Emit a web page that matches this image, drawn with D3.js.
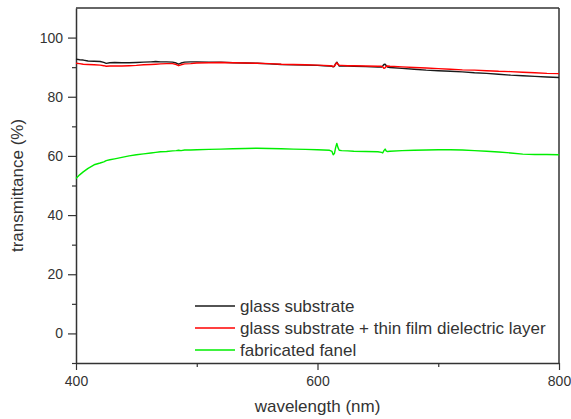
<!DOCTYPE html>
<html>
<head>
<meta charset="utf-8">
<script src="https://cdn.jsdelivr.net/npm/d3@7"></script>
<style>
  body { margin: 0; background: #fff; }
  text { font-family: "Liberation Sans", Arial, sans-serif; fill: #333; }
</style>
</head>
<body>
<svg id="chart" width="571" height="419"></svg>
<script>
// wavelengths (nm)
var wavelength = [400,403,406,410,415,420,423,425,428,432,438,444,450,456,462,466,470,475,480,483,
  485,487,490,495,500,510,520,530,540,550,560,570,580,590,600,605,610,612,613,614,
  615,616,617,618,620,625,630,640,650,653,654,655,656,657,658,660,670,680,690,700,
  710,720,730,740,750,760,770,780,790,800];

var glassSubstrate = [92.7,92.5,92.4,92.1,92.0,91.9,91.6,91.3,91.5,91.6,91.5,91.5,91.6,91.7,91.8,91.9,91.8,91.8,91.7,91.4,
  91.0,91.4,91.7,91.8,91.8,91.7,91.7,91.5,91.4,91.3,91.1,90.9,90.8,90.7,90.6,90.5,90.4,90.3,90.1,90.3,
  91.2,91.7,91.0,90.4,90.4,90.4,90.3,90.2,90.0,90.0,90.4,90.9,91.0,90.5,90.0,89.9,89.6,89.3,89.0,88.8,
  88.6,88.4,88.1,87.9,87.6,87.3,87.1,86.9,86.7,86.5];

var withDielectric = [91.3,91.2,91.0,90.9,90.8,90.7,90.5,90.3,90.4,90.4,90.4,90.5,90.6,90.8,90.9,91.0,91.1,91.2,91.2,90.9,
  90.5,90.8,91.1,91.2,91.4,91.5,91.6,91.5,91.4,91.3,91.2,91.0,90.9,90.8,90.7,90.6,90.5,90.4,90.2,90.4,
  91.0,91.5,91.0,90.6,90.6,90.5,90.5,90.4,90.3,90.3,90.1,89.6,89.8,90.3,90.4,90.3,90.1,89.9,89.7,89.5,
  89.3,89.1,89.0,88.8,88.6,88.5,88.3,88.1,87.9,87.8];

var fabricatedPanel = [52.4,53.6,54.6,55.8,57.0,57.6,58.0,58.4,58.7,59.0,59.5,60.0,60.4,60.7,61.0,61.2,61.4,61.5,61.7,61.8,
  61.9,61.8,62.0,62.0,62.1,62.2,62.3,62.4,62.5,62.6,62.5,62.4,62.3,62.2,62.1,62.0,61.9,61.5,60.4,60.8,
  62.8,64.2,62.8,61.9,61.8,61.7,61.6,61.5,61.4,61.2,61.0,61.8,62.3,61.6,61.5,61.6,61.8,61.9,62.0,62.1,
  62.1,62.0,61.8,61.6,61.3,61.0,60.6,60.5,60.5,60.4];

var seriesNames = ["glass substrate", "glass substrate + thin film dielectric layer", "fabricated fanel"];
var seriesColors = ["#1a1a1a", "#ff0000", "#00ee00"];
var xTicks = [400, 600, 800];
var xMinor = [500, 700];
var yTicks = [0, 20, 40, 60, 80, 100];
var yMinor = [-10, 10, 30, 50, 70, 90];

var margin = {top: 8, right: 12, bottom: 56, left: 76},
    width = 571 - margin.left - margin.right,
    height = 419 - margin.top - margin.bottom;

var svg = d3.select("#chart");
var g = svg.append("g").attr("transform", "translate(" + margin.left + "," + margin.top + ")");

var x = d3.scaleLinear().domain([400, 800]).range([0, width]);
var y = d3.scaleLinear().domain([-10, 110]).range([height, 0]);

// frame top/right
g.append("line").attr("x1", 0).attr("x2", width).attr("y1", 0).attr("y2", 0)
    .attr("stroke", "#333").attr("stroke-width", 1.5);
g.append("line").attr("x1", width).attr("x2", width).attr("y1", 0).attr("y2", height)
    .attr("stroke", "#333").attr("stroke-width", 1.5);

// x axis
var xAxis = g.append("g").attr("transform", "translate(0," + height + ")")
    .call(d3.axisBottom(x).tickValues(xTicks).tickSize(7).tickSizeOuter(0).tickPadding(6));
g.append("g").attr("transform", "translate(0," + height + ")")
    .call(d3.axisBottom(x).tickValues(xMinor).tickSize(4).tickFormat("").tickSizeOuter(0))
    .select(".domain").remove();

// y axis
var yAxis = g.append("g")
    .call(d3.axisLeft(y).tickValues(yTicks).tickSize(8).tickSizeOuter(0).tickPadding(5));
g.append("g")
    .call(d3.axisLeft(y).tickValues(yMinor).tickSize(4).tickFormat("").tickSizeOuter(0))
    .select(".domain").remove();

g.selectAll(".domain").attr("stroke", "#333").attr("stroke-width", 1.5);
g.selectAll(".tick line").attr("stroke", "#333").attr("stroke-width", 1.2);
g.selectAll(".tick text").attr("font-size", "14px").attr("fill", "#333")
    .attr("font-family", "Liberation Sans, Arial, sans-serif");

// series
var allSeries = [glassSubstrate, withDielectric, fabricatedPanel];
var line = d3.line()
    .x(function(d, i) { return x(wavelength[i]); })
    .y(function(d) { return y(d); });

// draw black first, red over it, green last
allSeries.forEach(function(vals, k) {
    g.append("path").datum(vals)
        .attr("fill", "none")
        .attr("stroke", seriesColors[k])
        .attr("stroke-width", 1.4)
        .attr("stroke-linejoin", "round")
        .attr("d", line);
});

// legend
var legend = g.selectAll(".legendRow")
    .data(seriesNames)
    .enter()
    .append("g")
    .attr("class", "legendRow")
    .attr("transform", function(d, i) { return "translate(" + (195 - margin.left) + "," + (306 - margin.top + i * 22) + ")"; });

legend.append("line")
    .attr("x1", 0).attr("x2", 40).attr("y1", 0).attr("y2", 0)
    .attr("stroke", function(d, i) { return seriesColors[i]; })
    .attr("stroke-width", 1.4);

legend.append("text")
    .attr("x", 45).attr("dy", "0.35em")
    .attr("font-size", "17px")
    .text(function(d) { return d; });

// axis titles
svg.append("text")
    .attr("x", margin.left + width / 2).attr("y", 412)
    .attr("text-anchor", "middle")
    .attr("font-size", "17px")
    .text("wavelength (nm)");

svg.append("text")
    .attr("transform", "translate(23," + (margin.top + height / 2) + ") rotate(-90)")
    .attr("text-anchor", "middle")
    .attr("font-size", "17px")
    .text("transmittance (%)");
</script>
</body>
</html>
